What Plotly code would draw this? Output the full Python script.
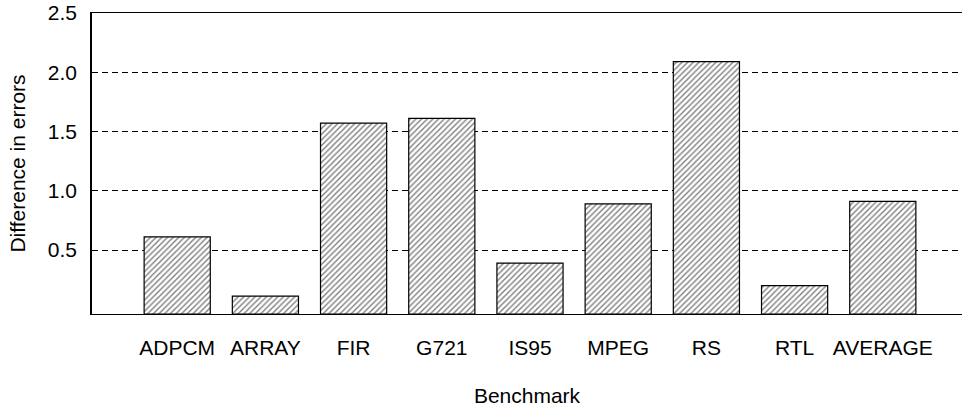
import plotly.graph_objects as go

benchmarks = ["ADPCM", "ARRAY", "FIR", "G721", "IS95", "MPEG", "RS", "RTL", "AVERAGE"]
difference = [0.61, 0.11, 1.57, 1.61, 0.39, 0.89, 2.09, 0.20, 0.91]
y_ticks = [0.5, 1.0, 1.5, 2.0, 2.5]
y_tick_labels = ["0.5", "1.0", "1.5", "2.0", "2.5"]
y_min, y_max = -0.04, 2.5

FONT = "Liberation Sans, Arial, sans-serif"

fig = go.Figure()
fig.add_trace(go.Bar(
    x=list(range(len(benchmarks))),
    y=[v - y_min for v in difference],
    base=y_min,
    marker=dict(
        color="white",
        line=dict(color="black", width=1.2),
        pattern=dict(shape="/", size=4, solidity=0.35, fgcolor="black", bgcolor="white"),
    ),
    width=0.75,
))

fig.update_layout(
    width=962, height=409,
    margin=dict(l=92, r=0, t=13, b=95),
    paper_bgcolor="white", plot_bgcolor="white",
    font=dict(family=FONT, size=21, color="black"),
    showlegend=False,
    xaxis=dict(
        range=[-0.966, 8.898],
        tickmode="array",
        tickvals=list(range(len(benchmarks))),
        ticktext=benchmarks,
        showline=True, linecolor="black", linewidth=1, mirror=True,
        showgrid=False, ticks="", ticklabelstandoff=15,
        title=dict(text="Benchmark", standoff=30, font=dict(size=21)),
        zeroline=False,
    ),
    yaxis=dict(
        range=[y_min, y_max],
        tickmode="array", tickvals=y_ticks, ticktext=y_tick_labels,
        showline=True, linecolor="black", linewidth=1.5,
        showgrid=True, gridcolor="black", gridwidth=1, griddash="6px,4px",
        ticks="", ticklabelstandoff=9,
        zeroline=False,
        title=dict(text="Difference in errors", standoff=16, font=dict(size=21)),
    ),
)

fig.write_html("out.html")
